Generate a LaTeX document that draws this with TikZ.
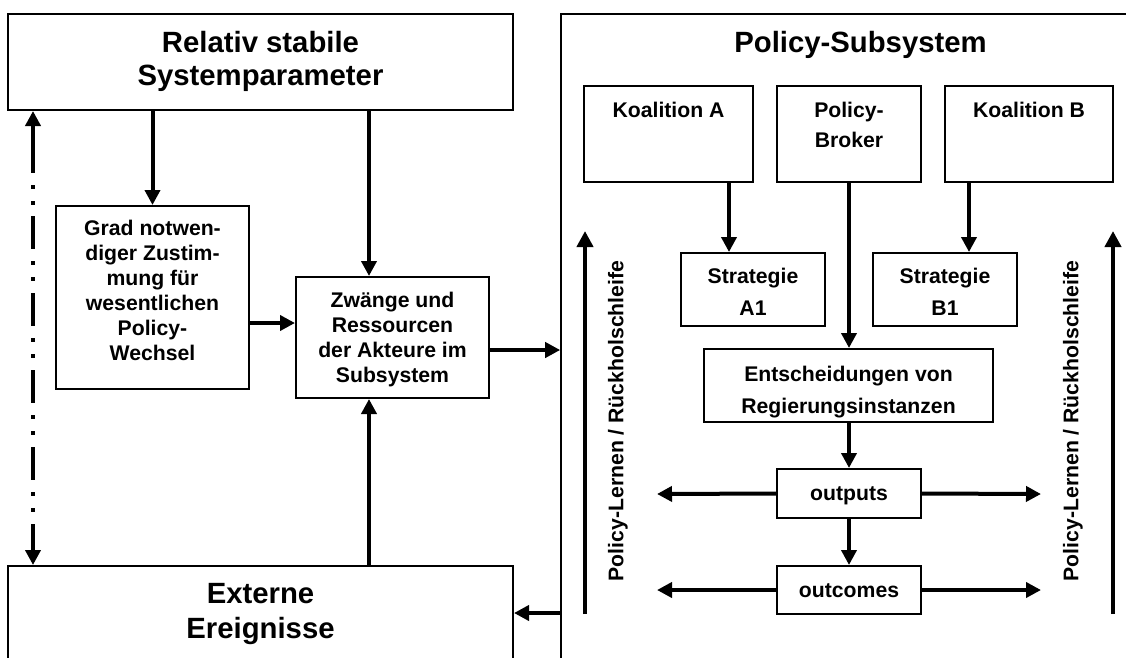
\documentclass[tikz,border=0pt]{standalone}
\usepackage{fontspec}
\setmainfont{Liberation Sans}
\usetikzlibrary{arrows.meta}
\begin{document}
\begin{tikzpicture}[x=1pt,y=-1pt,
  box/.style={draw, line width=2pt, inner sep=0pt, fill=white},
  txt/.style={inner sep=0pt, anchor=base, align=center,
    font=\bfseries\fontsize{21.2}{25}\selectfont},
  bigtxt/.style={txt, font=\bfseries\fontsize{29.3}{33}\selectfont},
  arr/.style={line width=4pt, -{Triangle[width=15pt,length=15pt]}},
  longarr/.style={line width=4pt, -{Triangle[width=16pt,length=16pt]}},
  dashdotdot/.style={line width=4pt,
    {Triangle[width=15pt,length=15pt]}-{Triangle[width=15pt,length=15pt]},
    dash pattern=on 48pt off 12pt on 4pt off 12pt on 4pt off 11pt
      on 33pt off 12pt on 4pt off 12pt on 4pt off 12pt
      on 33pt off 12pt on 4pt off 12pt on 4pt off 12pt
      on 33pt off 12pt on 4pt off 12pt on 4pt off 12pt
      on 33pt off 12pt on 4pt off 12pt on 4pt off 12pt
      on 90pt off 10pt}]

\useasboundingbox (0,0) rectangle (1126,657);
\fill[white] (0,0) rectangle (1126,657);
\clip (0,0) rectangle (1126,657);

% outer frames
\node[box, minimum width=505pt, minimum height=96pt] (rel) at (260.5,62) {};
\node[box, minimum width=505pt, minimum height=154pt] (ext) at (260.5,643) {};
\node[box, minimum width=599pt, minimum height=706pt, line width=1.6pt] (pol) at (860.5,367) {};

% left column boxes
\node[box, minimum width=193pt, minimum height=183pt] (grad) at (152.5,297.5) {};
\node[box, minimum width=193pt, minimum height=121pt] (zw) at (392.5,337.5) {};

% subsystem boxes
\node[box, minimum width=169pt, minimum height=96pt] (koalA) at (668.5,134) {};
\node[box, minimum width=144pt, minimum height=96pt] (brok) at (849,134) {};
\node[box, minimum width=168pt, minimum height=96pt] (koalB) at (1029,134) {};
\node[box, minimum width=144pt, minimum height=73pt] (strA) at (753,289.5) {};
\node[box, minimum width=144pt, minimum height=73pt] (strB) at (945,289.5) {};
\node[box, minimum width=289pt, minimum height=73pt] (ent) at (848.5,385.5) {};
\node[box, minimum width=144pt, minimum height=49pt] (out) at (849,493.5) {};
\node[box, minimum width=144pt, minimum height=48pt] (outc) at (849,590) {};

% texts (base anchor = baseline of the last line)
\node[bigtxt] (relT) at (260.5,85) {Relativ stabile\\Systemparameter};
\node[bigtxt, font=\bfseries\fontsize{29.3}{35}\selectfont] (extT) at (260.5,638) {Externe\\Ereignisse};
\node[bigtxt] (polT) at (860.5,52) {Policy-Subsystem};
\node[txt] (gradT) at (152.5,360) {Grad notwen-\\diger Zustim-\\mung für\\wesentlichen\\Policy-\\Wechsel};
\node[txt] (zwT) at (392.5,382) {Zwänge und\\Ressourcen\\der Akteure im\\Subsystem};
\node[txt] (koalAT) at (668.5,117) {Koalition A};
\node[txt, font=\bfseries\fontsize{21.2}{30}\selectfont] (brokT) at (849,147) {Policy-\\Broker};
\node[txt] (koalBT) at (1029,117) {Koalition B};
\node[txt, font=\bfseries\fontsize{21.2}{32}\selectfont] (strAT) at (753,315) {Strategie\\A1};
\node[txt, font=\bfseries\fontsize{21.2}{32}\selectfont] (strBT) at (945,315) {Strategie\\B1};
\node[txt, font=\bfseries\fontsize{21.2}{32}\selectfont] (entT) at (848.5,413) {Entscheidungen von\\Regierungsinstanzen};
\node[txt] (outT) at (849,500) {outputs};
\node[txt] (outcT) at (849,597) {outcomes};
\node[txt, anchor=center, rotate=90] (lernL) at (618,421) {Policy-Lernen / Rückholschleife};
\node[txt, anchor=center, rotate=90] (lernR) at (1073,421) {Policy-Lernen / Rückholschleife};

% helper coordinates for connector positions
\coordinate (xz) at (369,0);
\coordinate (xd) at (33,0);
\coordinate (yg) at (0,323);
\coordinate (yz) at (0,350);
\coordinate (ye) at (0,613);
\coordinate (xa) at (729,0);
\coordinate (xb) at (969,0);
\coordinate (outL) at (657,494);
\coordinate (outR) at (1041,494);
\coordinate (outcL) at (657,590);
\coordinate (outcR) at (1041,590);
\coordinate (lLb) at (585,614);
\coordinate (lLt) at (585,231);
\coordinate (lRb) at (1113,614);
\coordinate (lRt) at (1113,231);

% connectors on the left
\draw[arr] (rel.south -| grad) -- (grad.north);
\draw[arr] (rel.south -| xz) -- (zw.north -| xz);
\draw[arr] (grad.east |- yg) -- (zw.west |- yg);
\draw[arr] (zw.east |- yz) -- (pol.west |- yz);
\draw[arr] (ext.north -| xz) -- (zw.south -| xz);
\draw[arr] (pol.west |- ye) -- (ext.east |- ye);
\draw[dashdotdot] (rel.south -| xd) -- (ext.north -| xd);

% connectors inside the subsystem
\draw[arr] (koalA.south -| xa) -- (strA.north -| xa);
\draw[arr] (koalB.south -| xb) -- (strB.north -| xb);
\draw[arr] (brok.south) -- (ent.north -| brok);
\draw[arr] (ent.south -| out) -- (out.north);
\draw[arr] (out.south) -- (outc.north);
\draw[arr] (out.west) -- (outL);
\draw[arr] (out.east) -- (outR);
\draw[arr] (outc.west) -- (outcL);
\draw[arr] (outc.east) -- (outcR);
\draw[longarr] (lLb) -- (lLt);
\draw[longarr] (lRb) -- (lRt);
\end{tikzpicture}
\end{document}
